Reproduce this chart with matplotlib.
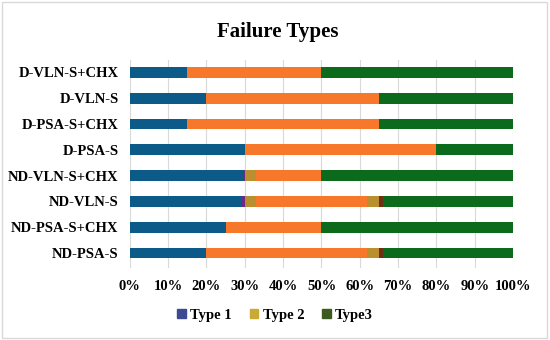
import matplotlib.pyplot as plt
from matplotlib.patches import Patch, Rectangle
from matplotlib.ticker import PercentFormatter

plt.rcParams['font.family'] = ['Liberation Serif', 'DejaVu Serif']
plt.rcParams['font.weight'] = 'bold'

# categories from bottom to top
groups = ['ND-PSA-S', 'ND-PSA-S+CHX', 'ND-VLN-S', 'ND-VLN-S+CHX',
          'D-PSA-S', 'D-PSA-S+CHX', 'D-VLN-S', 'D-VLN-S+CHX']

# stacked segments (percent), left to right
type1      = [20, 25, 29,   29.5, 30, 15, 20, 15]
violet     = [0,  0,  1,    0.5,  0,  0,  0,  0]
gold_a     = [0,  0,  3,    3,    0,  0,  0,  0]
type2      = [42, 25, 29,   17,   50, 50, 45, 35]
gold_b     = [3,  0,  3,    0,    0,  0,  0,  0]
brown      = [1,  0,  1,    0,    0,  0,  0,  0]
type3      = [34, 50, 34,   50,   20, 35, 35, 50]

segments = [
    (type1,  '#0c5a87'),
    (violet, '#6a2a86'),
    (gold_a, '#b98f30'),
    (type2,  '#f7782b'),
    (gold_b, '#b98f30'),
    (brown,  '#6d3015'),
    (type3,  '#0b6a1b'),
]

legend_labels = ['Type 1', 'Type 2', 'Type3']
legend_colors = ['#3b4a92', '#c9aa35', '#3d5a20']

fig = plt.figure(figsize=(5.5, 3.4), dpi=100)
ax = fig.add_axes([0.236, 0.212, 0.697, 0.612])

y = list(range(len(groups)))
left = [0] * len(groups)
for vals, col in segments:
    ax.barh(y, vals, left=left, height=0.42, color=col, zorder=3)
    left = [l + v for l, v in zip(left, vals)]

ax.set_xlim(0, 100)
ax.set_ylim(-0.58, len(groups) - 0.51)
ax.set_xticks(range(0, 101, 10))
ax.xaxis.set_major_formatter(PercentFormatter(decimals=0))
ax.set_yticks(y)
ax.set_yticklabels(groups)
ax.tick_params(axis='both', length=0, labelsize=10.5)
ax.tick_params(axis='x', pad=9)
ax.tick_params(axis='y', pad=8)
ax.grid(axis='x', color='#d9d9d9', linewidth=0.8, zorder=0)
for s in ax.spines.values():
    s.set_visible(False)

fig.suptitle('Failure Types', x=0.505, y=0.935, fontsize=15, fontweight='bold')

handles = [Patch(color=c) for c in legend_colors]
fig.legend(handles, legend_labels, loc='center', bbox_to_anchor=(0.5, 0.073),
           ncol=3, frameon=False, fontsize=10.5, handlelength=0.6,
           handleheight=0.6, handletextpad=0.3, columnspacing=1.2)

# chart border
fig.patches.append(Rectangle((0.003, 0.005), 0.992, 0.99, transform=fig.transFigure,
                             fill=False, edgecolor='#d9d9d9', linewidth=1))

fig.savefig('out.png', dpi=100)
